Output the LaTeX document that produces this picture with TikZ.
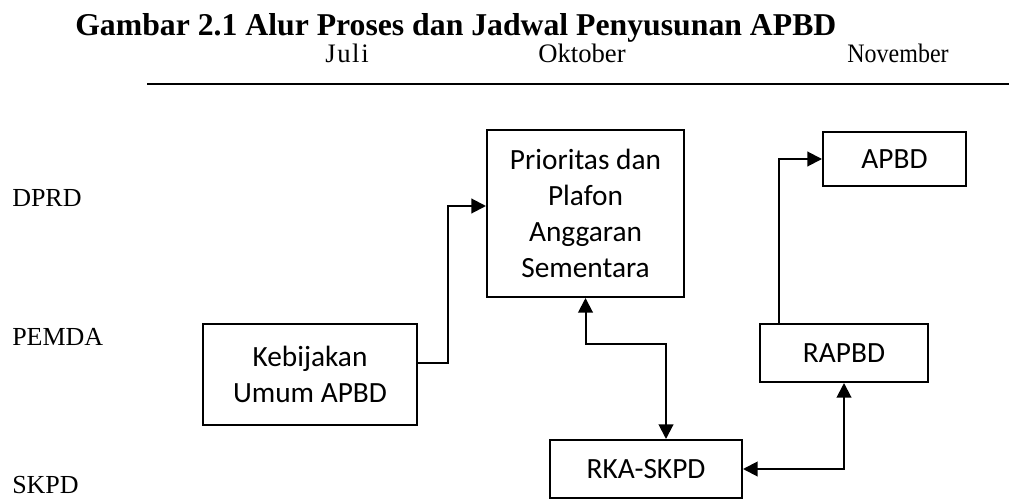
\documentclass[tikz,border=0pt]{standalone}
\usepackage{fontspec}
\setmainfont{Liberation Serif}
\newfontfamily\boxfont{Carlito}
\newfontfamily\wideserif[LetterSpace=6]{Liberation Serif}
\newfontfamily\narrowserif[FakeStretch=0.9]{Liberation Serif}
\usetikzlibrary{arrows.meta,calc}

\begin{document}
\begin{tikzpicture}[x=0.75pt,y=-0.75pt,>={Triangle[length=11pt,width=11pt]},
  box/.style={draw,line width=1.5pt,align=center,inner sep=0pt,font=\boxfont\fontsize{22}{26.8}\selectfont},
  lane/.style={anchor=base west,inner sep=0pt,font=\fontsize{19.5}{22}\selectfont},
  month/.style={anchor=base,inner sep=0pt,font=\fontsize{20}{22}\selectfont},
  link/.style={line width=1.5pt}]
\useasboundingbox (0,0) rectangle (1009,499);
% judul dan bulan
\node[anchor=base west,inner sep=0pt,font=\bfseries\fontsize{23.8}{26}\selectfont] (judul) at (75,36) {Gambar 2.1 Alur Proses dan Jadwal Penyusunan APBD};
\node[month] (juli) at (347,63) {\wideserif Juli};
\node[month] (okt) at (582,63) {Oktober};
\node[month] (nov) at (898,63) {\narrowserif November};
\draw[line width=2pt](147,84)--(1009,84);
% pelaku
\node[lane] (dprd) at (12,206) {DPRD};
\node[lane] (pemda) at (12,345) {PEMDA};
\node[lane] (skpd) at (12,493.5) {SKPD};
% kotak
\node[box,minimum width=160pt,minimum height=75.75pt] (keb) at (310,374.5) {Kebijakan\\Umum APBD};
\node[box,minimum width=147.75pt,minimum height=125.25pt] (pps) at (585.5,213.5) {Prioritas dan\\Plafon\\Anggaran\\Sementara};
\node[box,minimum width=107.25pt,minimum height=40.5pt] (apbd) at (894.5,159) {APBD};
\node[box,minimum width=126pt,minimum height=43.5pt] (rapbd) at (844,353) {RAPBD};
\node[box,minimum width=144pt,minimum height=43.5pt] (rka) at (646,469) {RKA-SKPD};
\coordinate (m1) at (448,206);
\coordinate (m2) at (666,344);
% panah
\draw[link,->]($(keb.east)+(0,-11.5)$)-|(m1)--(m1-|pps.west);
\draw[link,<->](pps.south)|-(m2)--(m2|-rka.north);
\draw[link,<->](rka.east)-|(rapbd.south);
\draw[link,->]([xshift=15pt]rapbd.north west)|-(apbd.west);
\end{tikzpicture}
\end{document}
